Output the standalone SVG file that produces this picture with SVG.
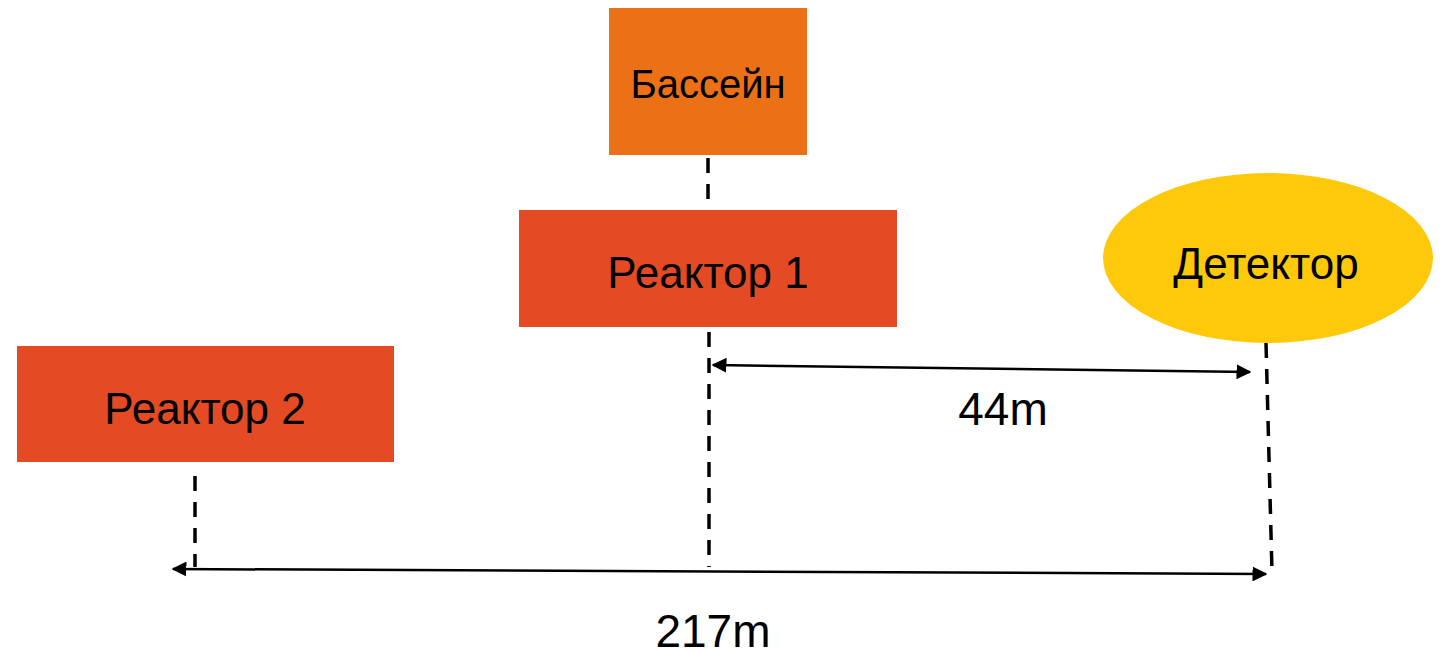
<svg xmlns="http://www.w3.org/2000/svg" width="1442" height="651" viewBox="0 0 1442 651">
<defs>
<style>
.lbl{font-family:"Liberation Sans",Arial,sans-serif;fill:#000;text-anchor:middle}
.dash{stroke:#000;stroke-width:3.5;stroke-dasharray:15,11;fill:none}
.dim{stroke:#000;stroke-width:2.5;fill:none;marker-start:url(#ah);marker-end:url(#ah)}
</style>
<marker id="ah" viewBox="0 0 10 10" refX="9" refY="5" markerWidth="6" markerHeight="6" orient="auto-start-reverse" markerUnits="strokeWidth">
<path d="M0,0 L10,5 L0,10 z" fill="#000"/>
</marker>
</defs>
<rect width="1442" height="651" fill="#fff"/>
<g id="connectors">
<line class="dash" x1="708" y1="158" x2="708" y2="206"/>
<line class="dash" x1="709" y1="332" x2="709" y2="567"/>
<line class="dash" x1="1266" y1="343" x2="1272" y2="572"/>
<line class="dash" x1="195" y1="476" x2="195" y2="567"/>
<line class="dim" x1="713" y1="365" x2="1250" y2="372"/>
<line class="dim" x1="173" y1="569" x2="1266" y2="574"/>
<text class="lbl" x="1003" y="425" font-size="46">44m</text>
<text class="lbl" x="713" y="647" font-size="46">217m</text>
</g>
<g id="basseyn">
<rect x="609" y="8" width="198" height="147" fill="#EC7116"/>
<text class="lbl" x="708" y="98" font-size="40">Бассейн</text>
</g>
<g id="reactor1">
<rect x="519" y="210" width="378" height="117" fill="#E44A23"/>
<text class="lbl" x="708" y="288" font-size="44">Реактор 1</text>
</g>
<g id="reactor2">
<rect x="17" y="346" width="377" height="116" fill="#E44A23"/>
<text class="lbl" x="205" y="424" font-size="44">Реактор 2</text>
</g>
<g id="detector">
<ellipse cx="1268" cy="258" rx="165" ry="85" fill="#FDC90A"/>
<text class="lbl" x="1266" y="279" font-size="44">Детектор</text>
</g>
</svg>
